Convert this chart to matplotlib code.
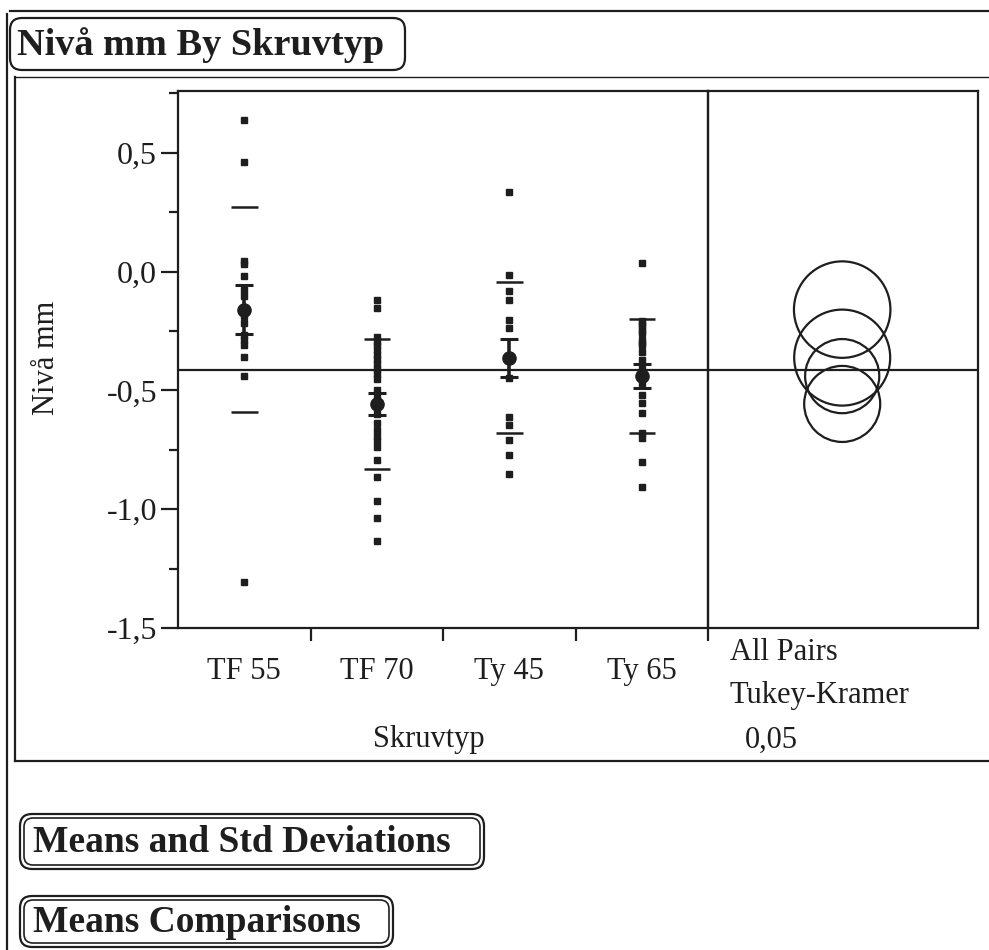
import matplotlib
matplotlib.use("Agg")
import matplotlib.pyplot as plt
from matplotlib.patches import FancyBboxPatch, Circle
from matplotlib.ticker import MultipleLocator
import numpy as np

plt.rcParams['font.family'] = ['Liberation Serif', 'DejaVu Serif']

# data read from the scanned JMP output
groups = ["TF 55", "TF 70", "Ty 45", "Ty 65"]
tf55 = [0.64, 0.46, 0.045, 0.03, -0.02, -0.076, -0.104, -0.189, -0.217,
        -0.266, -0.287, -0.309, -0.358, -0.44, -1.307]
tf70 = [-0.118, -0.152, -0.275, -0.295, -0.31, -0.33, -0.35, -0.37, -0.39,
        -0.41, -0.43, -0.45, -0.5, -0.53, -0.57, -0.6, -0.637, -0.668, -0.69,
        -0.715, -0.738, -0.795, -0.866, -0.964, -1.035, -1.133]
ty45 = [0.337, -0.016, -0.083, -0.118, -0.203, -0.238, -0.449, -0.612,
        -0.647, -0.71, -0.774, -0.851]
ty65 = [0.037, -0.21, -0.22, -0.23, -0.25, -0.26, -0.29, -0.30, -0.31, -0.34,
        -0.372, -0.41, -0.44, -0.471, -0.52, -0.554, -0.596, -0.68, -0.70,
        -0.802, -0.908]
values = [tf55, tf70, ty45, ty65]
means = [-0.16, -0.557, -0.362, -0.44]
std_devs = [0.43, 0.273, 0.318, 0.24]
std_errs = [0.102, 0.045, 0.08, 0.05]
circle_radii = [0.203, 0.160, 0.202, 0.156]
grand_mean = -0.414
yticks = [0.5, 0.0, -0.5, -1.0, -1.5]
ytick_labels = ["0,5", "0,0", "-0,5", "-1,0", "-1,5"]

ink = "#1e1e1e"
W, H = 989, 950
fig = plt.figure(figsize=(W / 100, H / 100), dpi=100)


def fr(x0, y0, x1, y1):
    return [x0 / W, 1 - y1 / H, (x1 - x0) / W, (y1 - y0) / H]


# background layer for the JMP report frames
bg = fig.add_axes([0, 0, 1, 1], zorder=0)
bg.set_xlim(0, W)
bg.set_ylim(H, 0)
bg.axis("off")

frame = dict(color=ink, lw=1.6)
bg.plot([10, W], [11, 11], **frame)
bg.plot([7, 7], [14, H], **frame)
bg.plot([15, W], [77, 77], color=ink, lw=1.0)
bg.plot([15, 15], [77, 761], **frame)
bg.plot([15, W], [761, 761], **frame)

bg.add_patch(FancyBboxPatch((10, 18), 395, 52, boxstyle="round,pad=0,rounding_size=12",
                            fill=False, ec=ink, lw=1.6))
bg.text(17, 45, "Nivå mm By Skruvtyp", fontsize=27.5, fontweight="bold", va="center", color=ink)

for (x0, y0, x1, y1, label) in [(20, 814, 484, 869, "Means and Std Deviations"),
                                (20, 896, 393, 947, "Means Comparisons")]:
    bg.add_patch(FancyBboxPatch((x0, y0), x1 - x0, y1 - y0,
                                boxstyle="round,pad=0,rounding_size=12",
                                fill=False, ec=ink, lw=1.6))
    bg.add_patch(FancyBboxPatch((x0 + 4, y0 + 4), x1 - x0 - 8, y1 - y0 - 8,
                                boxstyle="round,pad=0,rounding_size=9",
                                fill=False, ec=ink, lw=1.2))
    bg.text(x0 + 13, (y0 + y1) / 2 + 1, label, fontsize=27, fontweight="bold",
            va="center", color=ink)

# main one-way plot
ax = fig.add_axes(fr(178, 91, 708, 628), zorder=2)
ax.patch.set_alpha(0)
ax.set_xlim(0, 4)
ax.set_ylim(-1.5, 0.76)
for s in ax.spines.values():
    s.set_color(ink)
    s.set_linewidth(1.6)

ax.set_yticks(yticks)
ax.set_yticklabels(ytick_labels)
ax.yaxis.set_minor_locator(MultipleLocator(0.25))
ax.tick_params(axis="y", which="major", direction="out", length=12, width=1.6,
               labelsize=23, pad=3, colors=ink)
ax.tick_params(axis="y", which="minor", direction="out", length=6.5, width=1.6, colors=ink)

centers = np.arange(len(groups)) + 0.5
ax.set_xticks(centers)
ax.set_xticklabels(groups)
ax.set_xticks([1, 2, 3, 4], minor=True)
ax.tick_params(axis="x", which="major", length=0, labelsize=22, pad=21, colors=ink)
ax.tick_params(axis="x", which="minor", direction="out", length=9, width=1.6, colors=ink)

ax.axhline(grand_mean, color=ink, lw=1.6, zorder=1)

for xc, vals, m, sd, se in zip(centers, values, means, std_devs, std_errs):
    ax.plot(np.full(len(vals), xc), vals, "s", ms=4.0, color=ink, zorder=3)
    ax.hlines([m + sd, m - sd], xc - 0.1, xc + 0.1, color=ink, lw=1.8, zorder=3)
    ax.errorbar(xc, m, yerr=se, fmt="o", ms=9.5, color=ink, elinewidth=2.6,
                capsize=6.5, capthick=2.2, zorder=4)

bg.text(47, 358, "Nivå mm", fontsize=22, rotation=90, ha="center", va="center", color=ink)

# comparison circles panel, same y scale with equal aspect
ax2 = fig.add_axes(fr(708, 91, 978, 628), sharey=ax, zorder=2)
ax2.patch.set_alpha(0)
px_per_unit = 537 / (0.76 + 1.5)
xspan = 270 / px_per_unit
ax2.set_xlim(0, xspan)
ax2.set_xticks([])
ax2.tick_params(axis="y", which="both", left=False, labelleft=False)
for s in ax2.spines.values():
    s.set_color(ink)
    s.set_linewidth(1.6)
ax2.axhline(grand_mean, color=ink, lw=1.6)
for m, r in zip(means, circle_radii):
    ax2.add_patch(Circle((xspan * 0.497, m), r, fill=False, ec=ink, lw=1.6))

bg.text(730, 652, "All Pairs", fontsize=22, va="center", color=ink)
bg.text(730, 695, "Tukey-Kramer", fontsize=22, va="center", color=ink)
bg.text(745, 740, "0,05", fontsize=22, va="center", color=ink)
bg.text(429, 740, "Skruvtyp", fontsize=22, va="center", ha="center", color=ink)

fig.savefig("out.png", dpi=100, facecolor="white")
